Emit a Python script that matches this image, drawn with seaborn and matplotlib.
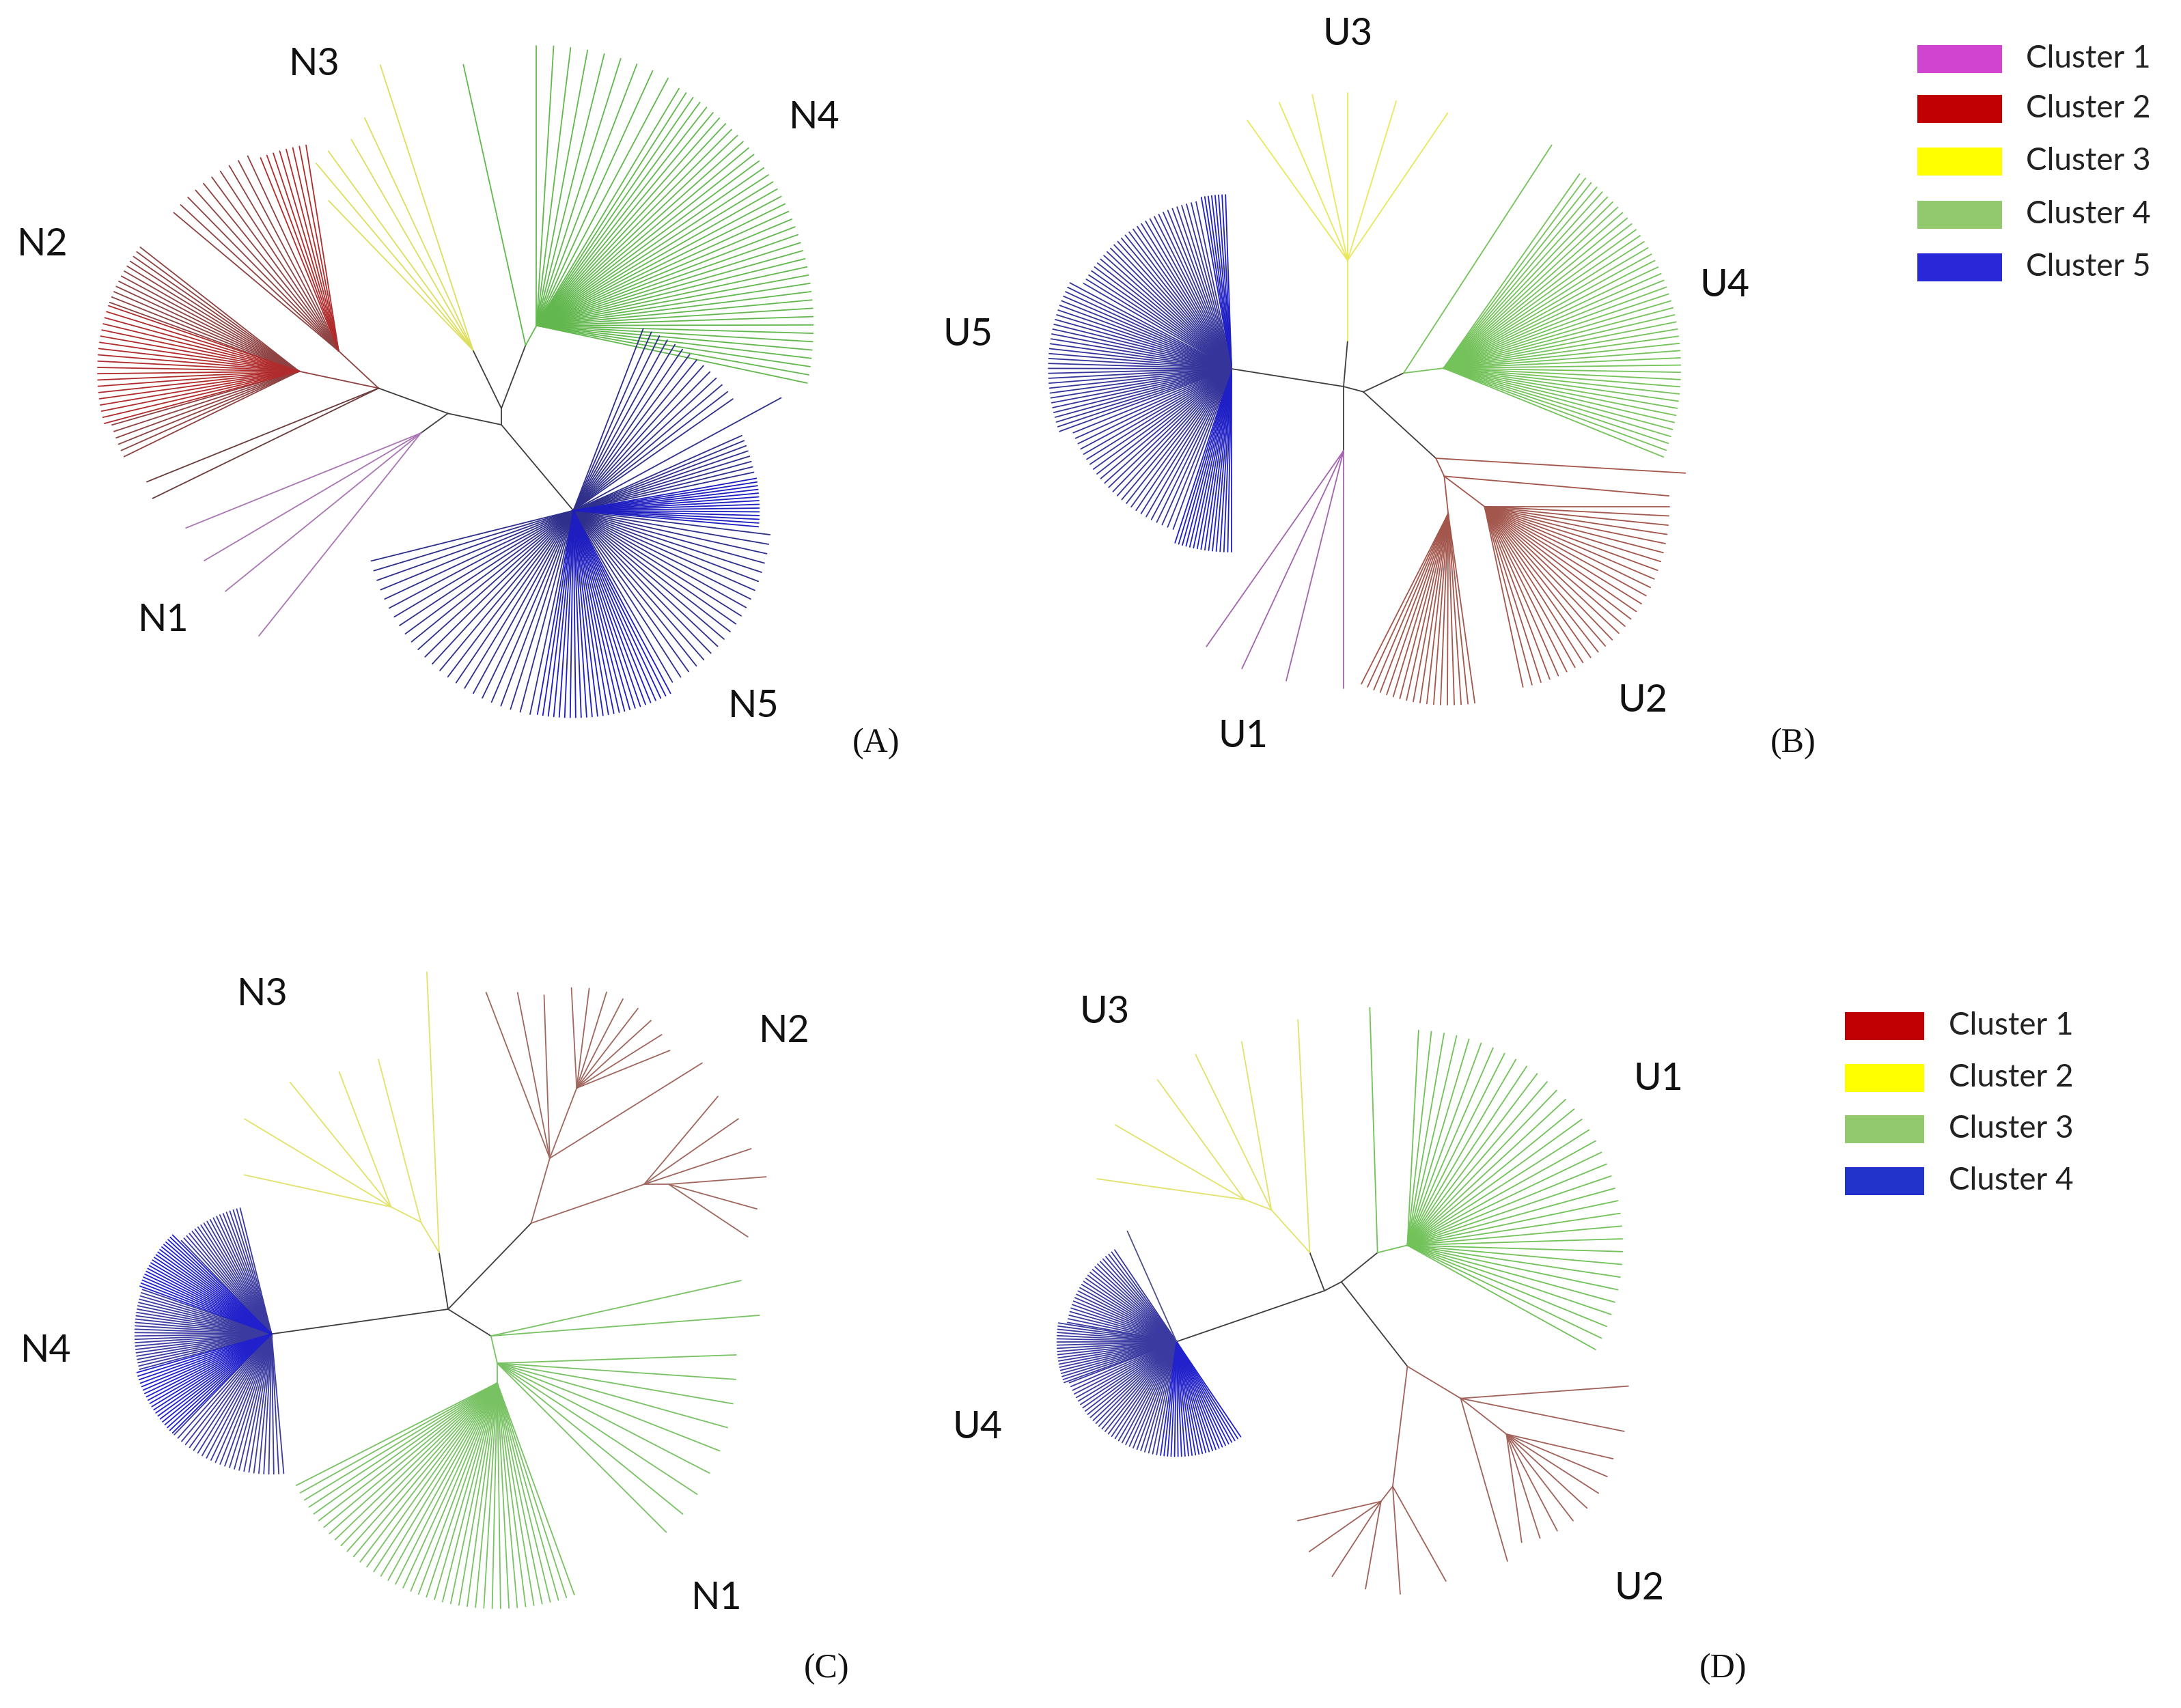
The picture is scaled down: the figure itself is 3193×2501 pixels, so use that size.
import numpy as np
import pandas as pd
import seaborn as sns
import matplotlib.pyplot as plt
from matplotlib.patches import Rectangle

# ---- tree data: internal branches (node, parent, angle deg, length px, group)
A_BRANCHES = [
    ('U', 'root', 90, 24, 'stem'), ('Y', 'U', 116, 95, 'stem'),
    ('G', 'U', 69, 99, 'stem'), ('G2', 'G', 61, 33, 'N4'),
    ('V', 'root', -50, 164, 'stem'), ('L', 'root', 168, 80, 'stem'),
    ('P', 'L', 216, 49, 'stem'), ('M', 'L', 160, 108, 'stem'),
    ('R1', 'M', 168, 119, 'N2'), ('R2', 'M', 137, 80, 'N2'),
]
# leaf fans: (node, first angle, last angle, number of leaves, leaf length, group)
A_FANS = [
    ('G2', 90, 62, 9, 410, 'N4'), ('G2', 59, -12, 42, 405, 'N4'),
    ('V', 69, 35, 14, 285, 'N5'), ('V', 24, 12, 8, 270, 'N5'),
    ('V', 10, -5, 14, 272, 'N5d'), ('V', -7, -60, 20, 290, 'N5'),
    ('V', -62, -100, 26, 303, 'N5d'), ('V', -102, -166, 24, 305, 'N5'),
    ('R1', 142, 160, 12, 295, 'N2'), ('R1', 161, 195, 20, 295, 'N2d'),
    ('R1', 196, 206, 6, 285, 'N2'),
    ('R2', 99, 112, 8, 305, 'N2d'), ('R2', 115, 140, 10, 315, 'N2'),
]
# single leaves: (node, angle, length, group)
A_TWIGS = [
    ('Y', 108, 439, 'N3'), ('Y', 115, 375, 'N3'), ('Y', 120, 356, 'N3'),
    ('Y', 126, 360, 'N3'), ('Y', 130, 357, 'N3'), ('Y', 134, 304, 'N3'),
    ('G', 102.5, 421, 'N4'), ('V', 28.5, 346, 'N5'),
    ('P', 202, 371, 'N1'), ('P', 210.5, 368, 'N1'), ('P', 219, 368, 'N1'),
    ('P', 231.4, 380, 'N1'),
    ('M', 202, 366, 'N2s'), ('M', 206, 368, 'N2s'),
]

B_BRANCHES = [
    ('C2', 'root', -15, 30, 'stem'), ('H5', 'root', 171, 166, 'stem'),
    ('Y1', 'root', 85, 67, 'stem'), ('YB', 'Y1', 90, 118, 'U3'),
    ('PB', 'root', -90, 94, 'stem'), ('GB1', 'C2', 25, 65, 'stem'),
    ('GB2', 'GB1', 7, 59, 'U4'), ('RB1', 'C2', -42.5, 144, 'stem'),
    ('RB2', 'RB1', -65, 29, 'U2'), ('RB3', 'RB2', -37, 74, 'U2'),
    ('RB4', 'RB2', -84, 55, 'U2'),
]
B_FANS = [
    ('H5', 92, 100, 8, 255, 'U5d'), ('H5', 102, 150, 30, 250, 'U5'),
    ('H5', 152, 200, 32, 268, 'U5'), ('H5', 202, 250, 25, 250, 'U5'),
    ('H5', 252, 270, 16, 268, 'U5d'),
    ('GB2', 55, -22, 45, 347, 'U4'),
    ('RB3', 0, -78, 28, 270, 'U2'), ('RB4', 243, 278, 18, 280, 'U2'),
]
B_TWIGS = [
    ('YB', 125.6, 252, 'U3'), ('YB', 113.4, 252, 'U3'), ('YB', 102, 248, 'U3'),
    ('YB', 90, 245, 'U3'), ('YB', 73, 244, 'U3'), ('YB', 55.8, 261, 'U3'),
    ('PB', 235, 350, 'U1'), ('PB', 245, 352, 'U1'), ('PB', 256, 347, 'U1'),
    ('PB', 270, 348, 'U1'),
    ('GB1', 57, 398, 'U4'), ('RB1', -3.4, 366, 'U2'), ('RB2', -5, 330, 'U2'),
]

C_BRANCHES = [
    ('H4', 'root', 188, 261, 'stem'), ('Y1', 'root', 99, 84, 'stem'),
    ('Y2', 'Y1', 121, 52, 'N3'), ('Y3', 'Y2', 153, 49, 'N3'),
    ('B1', 'root', 46, 175, 'stem'), ('B2', 'B1', 74, 99, 'N2'),
    ('B3', 'B1', 19, 175, 'N2'), ('B4', 'B2', 69, 110, 'N2'),
    ('B5', 'B3', 0, 36, 'N2'),
    ('G1', 'root', -32, 74, 'stem'), ('G2', 'G1', -77, 41, 'N1'),
    ('G3', 'G2', -90, 29, 'N1'),
]
C_FANS = [
    ('H4', 104, 134, 20, 190, 'N4'), ('H4', 135, 160, 20, 205, 'N4d'),
    ('H4', 161, 195, 25, 200, 'N4'), ('H4', 196, 225, 20, 205, 'N4d'),
    ('H4', 226, 275, 25, 205, 'N4'),
    ('B4', 93, 22, 8, 147, 'N2'),
    ('G2', 2, -45, 9, 350, 'N1'), ('G3', 207, 290, 40, 330, 'N1'),
]
C_TWIGS = [
    ('Y1', 92.5, 411, 'N3'), ('Y2', 104.6, 246, 'N3'),
    ('Y3', 167.7, 220, 'N3'), ('Y3', 149, 250, 'N3'), ('Y3', 129, 235, 'N3'),
    ('Y3', 111, 212, 'N3'),
    ('B2', 111, 260, 'N2'), ('B2', 101, 247, 'N2'), ('B2', 92, 239, 'N2'),
    ('B2', 32, 263, 'N2'),
    ('B3', 50, 168, 'N2'), ('B3', 34.8, 168, 'N2'), ('B3', 18.4, 165, 'N2'),
    ('B5', 4.4, 143, 'N2'), ('B5', -15.6, 134, 'N2'), ('B5', -33.6, 139, 'N2'),
    ('G1', 12.5, 375, 'N1'), ('G1', 4.4, 394, 'N1'),
]

D_BRANCHES = [
    ('Nb', 'root', 27.5, 28, 'stem'), ('H4', 'root', 199, 229, 'stem'),
    ('YD1', 'root', 111, 60, 'stem'), ('YD2', 'YD1', 132, 84, 'U3'),
    ('YD3', 'YD2', 159, 42, 'U3'),
    ('GD1', 'Nb', 39, 68, 'stem'), ('GD2', 'GD1', 14, 45, 'U1'),
    ('RD1', 'Nb', -52, 157, 'stem'), ('RD2', 'RD1', -31, 91, 'U2'),
    ('RD3', 'RD1', 263, 177, 'U2'), ('RD4', 'RD2', -38, 85, 'U2'),
    ('RD5', 'RD3', 232, 28, 'U2'),
]
D_FANS = [
    ('H4', 124, 170, 25, 162, 'U4'), ('H4', 171, 200, 20, 175, 'U4'),
    ('H4', 201, 260, 30, 168, 'U4'), ('H4', 262, 304, 25, 168, 'U4d'),
    ('GD2', 87, -29, 35, 315, 'U1'),
    ('RD4', -13, -82, 8, 160, 'U2'),
]
D_TWIGS = [
    ('H4', 114, 177, 'U4s'),
    ('YD1', 92.9, 341, 'U3'), ('YD2', 100, 250, 'U3'), ('YD2', 116, 253, 'U3'),
    ('YD3', 126, 217, 'U3'), ('YD3', 150, 219, 'U3'), ('YD3', 172, 218, 'U3'),
    ('GD1', 91.8, 359, 'U1'),
    ('RD2', 4.2, 246, 'U2'), ('RD2', -11.4, 244, 'U2'), ('RD2', -74, 248, 'U2'),
    ('RD3', -60.7, 159, 'U2'), ('RD3', -86, 158, 'U2'),
    ('RD5', 260, 130, 'U2'), ('RD5', 237, 131, 'U2'), ('RD5', 215, 128, 'U2'),
    ('RD5', 193, 125, 'U2'),
]

# labels
A_LABELS = ['N1', 'N2', 'N3', 'N4', 'N5']
B_LABELS = ['U1', 'U2', 'U3', 'U4', 'U5']
C_LABELS = ['N1', 'N2', 'N3', 'N4']
D_LABELS = ['U1', 'U2', 'U3', 'U4']
TOP_LEGEND = ['Cluster 1', 'Cluster 2', 'Cluster 3', 'Cluster 4', 'Cluster 5']
BOTTOM_LEGEND = ['Cluster 1', 'Cluster 2', 'Cluster 3', 'Cluster 4']

# ---- styles
STEM = '#3d3d3d'
A_COLORS = {'stem': STEM, 'N1': '#a976b3', 'N2': '#8e4242', 'N2d': '#b02c2c',
            'N2s': '#6a3b3b', 'N3': '#dede5e', 'N4': '#62b84e',
            'N5': '#2f2f8c', 'N5d': '#1e1ec0'}
B_COLORS = {'stem': STEM, 'U1': '#a464b0', 'U2': '#a2564c', 'U3': '#e8e85a',
            'U4': '#74c25a', 'U5': '#34349a', 'U5d': '#1f1fc6'}
C_COLORS = {'stem': STEM, 'N1': '#79c264', 'N2': '#a0675e', 'N3': '#e2e26a',
            'N4': '#3a3aa0', 'N4d': '#2020cc'}
D_COLORS = {'stem': STEM, 'U1': '#72c25a', 'U2': '#a0625a', 'U3': '#e2e26a',
            'U4': '#3a3aa0', 'U4d': '#2222cc', 'U4s': '#50508a'}
TOP_SWATCH = ['#cf45cf', '#c00000', '#ffff00', '#92c86e', '#2828d8']
BOTTOM_SWATCH = ['#c00000', '#ffff00', '#92c86e', '#2233cc']

W, H = 3193, 2501


def tree_segments(root, branches, fans, twigs, colors, tag):
    # turn branch lengths / angles into segment rows (pixel coords, y down)
    pos = {'root': root}
    rows = []

    def add(p, ang, length, group, k):
        x0, y0 = p
        a = np.deg2rad(ang)
        x1, y1 = x0 + length * np.cos(a), y0 - length * np.sin(a)
        sid = f'{tag}{k}'
        rows.append((sid, x0, y0, colors[group]))
        rows.append((sid, x1, y1, colors[group]))
        return (x1, y1)

    k = 0
    for node, parent, ang, length, group in branches:
        pos[node] = add(pos[parent], ang, length, group, k)
        k += 1
    for node, a0, a1, n, length, group in fans:
        for ang in np.linspace(a0, a1, n):
            add(pos[node], ang, length, group, k)
            k += 1
    for node, ang, length, group in twigs:
        add(pos[node], ang, length, group, k)
        k += 1
    return rows


panels = [
    ('a', (734, 622), A_BRANCHES, A_FANS, A_TWIGS, A_COLORS),
    ('b', (1967, 566), B_BRANCHES, B_FANS, B_TWIGS, B_COLORS),
    ('c', (656, 1917), C_BRANCHES, C_FANS, C_TWIGS, C_COLORS),
    ('d', (1939, 1890), D_BRANCHES, D_FANS, D_TWIGS, D_COLORS),
]
rows = []
for tag, root, br, fa, tw, col in panels:
    rows += tree_segments(root, br, fa, tw, col, tag)
df = pd.DataFrame(rows, columns=['seg', 'x', 'y', 'color'])

sns.set_theme(style='white')
plt.rcParams['font.family'] = ['Lato', 'DejaVu Sans']

fig = plt.figure(figsize=(W / 100, H / 100), dpi=100)
ax = fig.add_axes([0, 0, 1, 1])
pal = {c: c for c in df['color'].unique()}
sns.lineplot(data=df, x='x', y='y', units='seg', estimator=None, hue='color',
             palette=pal, sort=False, legend=False, linewidth=1.3, ax=ax)
ax.set_xlim(0, W)
ax.set_ylim(H, 0)
ax.axis('off')

# cluster labels
label_pos = {
    'a': [(239, 909), (62, 359), (460, 95), (1192, 172), (1103, 1034)],
    'b': [(1820, 1078), (2405, 1027), (1973, 51), (2525, 418), (1417, 491)],
    'c': [(1049, 2341), (1148, 1511), (384, 1456), (67, 1978)],
    'd': [(2428, 1581), (2400, 2326), (1617, 1482), (1431, 2091)],
}
for tag, labels in zip('abcd', [A_LABELS, B_LABELS, C_LABELS, D_LABELS]):
    for lab, (x, y) in zip(labels, label_pos[tag]):
        ax.text(x, y, lab, fontsize=40, ha='center', va='center', color='#111111')

for lab, (x, y) in zip(['(A)', '(B)', '(C)', '(D)'],
                       [(1283, 1089), (2625, 1089), (1210, 2444), (2523, 2444)]):
    ax.text(x, y, lab, fontsize=36, ha='center', va='center', color='#111111',
            family='Liberation Serif')

# legends
for names, swatch, x0, x1, tx, ys in [
        (TOP_LEGEND, TOP_SWATCH, 2807, 2931, 2966, [86, 159, 236, 314, 391]),
        (BOTTOM_LEGEND, BOTTOM_SWATCH, 2701, 2817, 2853, [1502, 1578, 1653, 1729])]:
    for name, c, y in zip(names, swatch, ys):
        ax.add_patch(Rectangle((x0, y - 20), x1 - x0, 41, color=c, lw=0))
        ax.text(tx, y, name, fontsize=33, ha='left', va='center', color='#222222')

fig.savefig('out.png', dpi=100)
